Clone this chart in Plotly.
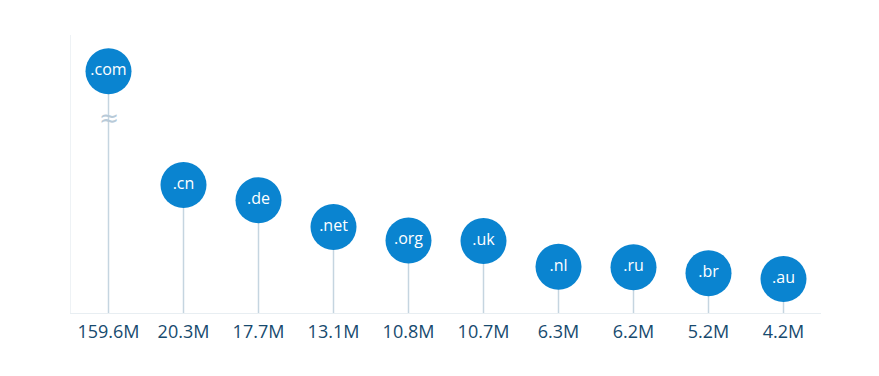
import plotly.graph_objects as go

tlds = [".com", ".cn", ".de", ".net", ".org", ".uk", ".nl", ".ru", ".br", ".au"]
domains_m = [159.6, 20.3, 17.7, 13.1, 10.8, 10.7, 6.3, 6.2, 5.2, 4.2]
tick_labels = ["159.6M", "20.3M", "17.7M", "13.1M", "10.8M", "10.7M", "6.3M", "6.2M", "5.2M", "4.2M"]

BREAK_AT = 39.8      # values above this are drawn at the break level
BREAK_MARK_Y = 31.8  # where the ≈ break symbol sits
Y_MIN, Y_MAX = -1.63, 46

shown = [min(v, BREAK_AT) for v in domains_m]

stem_x, stem_y = [], []
for t, v in zip(tlds, shown):
    stem_x += [t, t, None]
    stem_y += [Y_MIN, v, None]

fig = go.Figure()
fig.add_trace(go.Scatter(x=stem_x, y=stem_y, mode="lines",
                         line=dict(color="#c5d5e0", width=1.5),
                         hoverinfo="skip", showlegend=False))
fig.add_trace(go.Scatter(x=tlds, y=shown, mode="markers+text",
                         marker=dict(size=46, color="#0a84d0", line=dict(width=0)),
                         text=tlds, textposition="middle center",
                         textfont=dict(color="white", size=16, family="Open Sans"),
                         showlegend=False))

for t, v in zip(tlds, domains_m):
    if v > BREAK_AT:
        fig.add_annotation(x=t, y=BREAK_MARK_Y, text="≈", showarrow=False,
                           font=dict(size=24, color="#b8cad8", family="DejaVu Sans"),
                           borderpad=0)

fig.update_layout(
    width=879, height=376,
    margin=dict(l=63, r=66, t=27, b=71),
    paper_bgcolor="white", plot_bgcolor="white",
    font=dict(family="Open Sans"),
    xaxis=dict(type="category", tickmode="array", tickvals=tlds, ticktext=tick_labels,
               showgrid=False, zeroline=False, showline=True, linecolor="#e8eef2",
               linewidth=1, tickfont=dict(size=18, color="#174a6e"),
               ticks="", ticklabelstandoff=2, range=[-0.5, 9.5], automargin=False),
    yaxis=dict(range=[Y_MIN, Y_MAX], showgrid=False, zeroline=False, automargin=False,
               showticklabels=False, showline=True, linecolor="#eef2f5", linewidth=1),
)

fig.write_html("out.html")
